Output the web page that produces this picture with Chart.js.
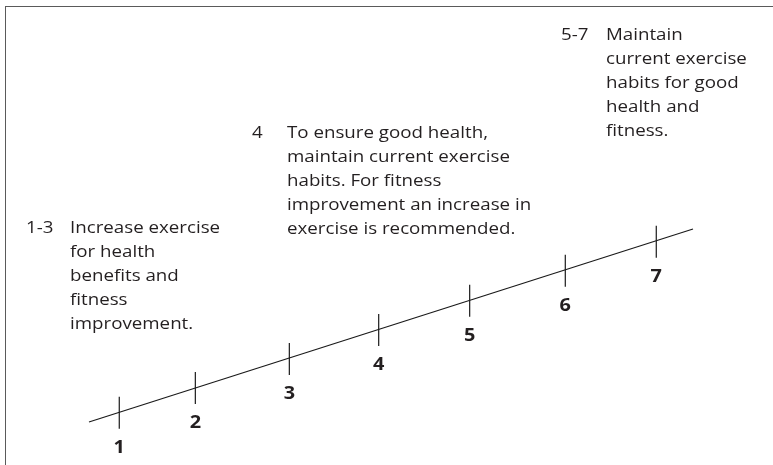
<!DOCTYPE html>
<html>
<head>
<meta charset="utf-8">
<script src="https://cdn.jsdelivr.net/npm/chart.js@4.4.1/dist/chart.umd.min.js"></script>
<style>
  html, body { margin: 0; padding: 0; background: #fff; }
  #wrap { position: relative; width: 773px; height: 465px; }
  #frame {
    position: absolute; left: 5px; top: 6px; right: 0; bottom: 0;
    border-top: 1.5px solid #5a5a5a; border-left: 1.5px solid #5a5a5a;
    pointer-events: none;
  }
  canvas { position: absolute; left: 0; top: 0; }
</style>
</head>
<body>
<div id="wrap">
  <canvas id="scaleChart" width="773" height="465"></canvas>
  <div id="frame"></div>
</div>
<script>
// scale points along the rising line (x = position, y = level)
const scoreLabels = ['1', '2', '3', '4', '5', '6', '7'];
const scoreX = [15.43, 25.27, 37.43, 48.99, 60.76, 73.13, 84.90];
const scoreY = [11.25, 16.56, 22.80, 29.03, 35.33, 41.78, 48.02];

// the line itself runs a bit beyond the first and last marks
const lineX = [11.51, 89.65];
const lineY = [9.25, 50.75];

// advice notes
const noteKeys = ['1-3', '4', '5-7'];
const noteLines = [
    ['Increase exercise', 'for health', 'benefits and', 'fitness', 'improvement.'],
    ['To ensure good health,', 'maintain current exercise', 'habits. For fitness', 'improvement an increase in', 'exercise is recommended.'],
    ['Maintain', 'current exercise', 'habits for good', 'health and', 'fitness.']
];

// where each note sits (pixels)
const noteLayout = [
    { keyX: 26, textX: 70, top: 228 },
    { keyX: 252, textX: 287, top: 133 },
    { keyX: 561, textX: 606, top: 35 }
];

const textColor = '#231f20';
const bodyFont = '16px "Open Sans", sans-serif';
const stretch = 1.17; // the lettering in the picture is a little wide
const lineGap = 24;

function wideText(ctx, txt, x, y, align) {
    ctx.save();
    ctx.translate(x, y);
    ctx.scale(stretch, 1);
    ctx.textAlign = align;
    ctx.fillText(txt, 0, 0);
    ctx.restore();
}

const scoreLabelPlugin = {
    id: 'scoreLabels',
    afterDatasetsDraw(chart) {
        const ctx = chart.ctx;
        const meta = chart.getDatasetMeta(1);
        ctx.save();
        ctx.fillStyle = textColor;
        ctx.font = 'bold 17px "Open Sans", sans-serif';
        ctx.textBaseline = 'middle';
        meta.data.forEach((pt, i) => {
            wideText(ctx, scoreLabels[i], pt.x, pt.y + 35, 'center');
        });
        ctx.restore();
    }
};

const notesPlugin = {
    id: 'notes',
    afterDraw(chart) {
        const ctx = chart.ctx;
        ctx.save();
        ctx.fillStyle = textColor;
        ctx.font = bodyFont;
        ctx.textBaseline = 'middle';
        noteKeys.forEach((key, i) => {
            const pos = noteLayout[i];
            wideText(ctx, key, pos.keyX, pos.top, 'left');
            noteLines[i].forEach((txt, j) => {
                wideText(ctx, txt, pos.textX, pos.top + j * lineGap, 'left');
            });
        });
        ctx.restore();
    }
};

new Chart(document.getElementById('scaleChart'), {
    type: 'scatter',
    data: {
        datasets: [
            {
                label: 'line',
                data: lineX.map((x, i) => ({ x, y: lineY[i] })),
                showLine: true,
                borderColor: '#1a1a1a',
                borderWidth: 1.2,
                pointRadius: 0
            },
            {
                label: 'marks',
                data: scoreX.map((x, i) => ({ x, y: scoreY[i] })),
                showLine: false,
                pointStyle: 'line',
                rotation: 90,
                pointRadius: 16,
                borderColor: '#1a1a1a',
                borderWidth: 1.2
            }
        ]
    },
    options: {
        responsive: false,
        animation: false,
        layout: { padding: 0, autoPadding: false },
        plugins: {
            legend: { display: false },
            tooltip: { enabled: false }
        },
        scales: {
            x: { type: 'linear', min: 0, max: 100, display: false },
            y: { type: 'linear', min: 0, max: 100, display: false }
        }
    },
    plugins: [scoreLabelPlugin, notesPlugin]
});
</script>
</body>
</html>
